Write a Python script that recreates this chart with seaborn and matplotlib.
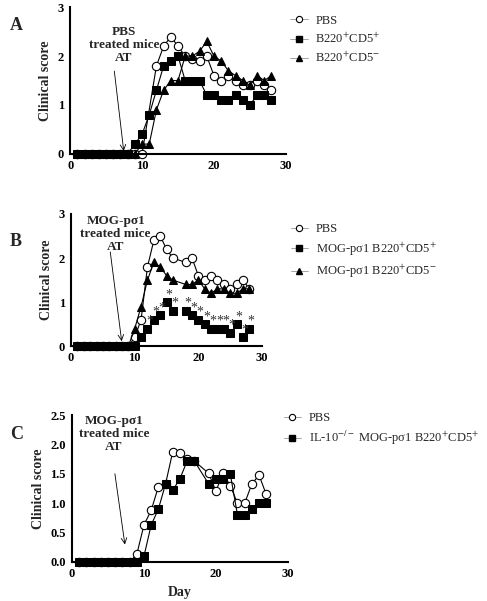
import numpy as np
import pandas as pd
import seaborn as sns
import matplotlib
matplotlib.use('Agg')
import matplotlib.pyplot as plt
from matplotlib.lines import Line2D

sns.set_style('white')
plt.rcParams['font.family'] = ['Liberation Serif', 'DejaVu Serif']
plt.rcParams['mathtext.fontset'] = 'stix'

# ---- panel A ----
pbs_a_day = [1, 2, 3, 4, 5, 6, 7, 8, 9, 10, 12, 13, 14, 15, 16, 17, 18, 19, 20, 21, 22, 23, 24, 25, 26, 27, 28]
pbs_a = [0, 0, 0, 0, 0, 0, 0, 0, 0, 0, 1.8, 2.2, 2.4, 2.2, 2.0, 1.95, 1.9, 2.0, 1.6, 1.5, 1.6, 1.5, 1.4, 1.4, 1.5, 1.4, 1.3]
pos_a_day = [1, 2, 3, 4, 5, 6, 7, 8, 9, 10, 11, 12, 13, 14, 15, 16, 17, 18, 19, 20, 21, 22, 23, 24, 25, 26, 27, 28]
pos_a = [0, 0, 0, 0, 0, 0, 0, 0, 0.2, 0.4, 0.8, 1.3, 1.8, 1.9, 2.0, 1.5, 1.5, 1.5, 1.2, 1.2, 1.1, 1.1, 1.2, 1.1, 1.0, 1.2, 1.2, 1.1]
neg_a_day = pos_a_day
neg_a = [0, 0, 0, 0, 0, 0, 0, 0, 0, 0.2, 0.2, 0.9, 1.3, 1.5, 1.5, 2.0, 2.0, 2.1, 2.3, 2.0, 1.9, 1.7, 1.6, 1.5, 1.4, 1.6, 1.5, 1.6]

# ---- panel B ----
pbs_b_day = [1, 2, 3, 4, 5, 6, 7, 8, 9, 10, 11, 12, 13, 14, 15, 16, 18, 19, 20, 21, 22, 23, 24, 25, 26, 27, 28]
pbs_b = [0, 0, 0, 0, 0, 0, 0, 0, 0, 0.2, 0.6, 1.8, 2.4, 2.5, 2.2, 2.0, 1.9, 2.0, 1.6, 1.5, 1.6, 1.5, 1.4, 1.3, 1.4, 1.5, 1.3]
pos_b_day = pbs_b_day
pos_b = [0, 0, 0, 0, 0, 0, 0, 0, 0, 0, 0.2, 0.4, 0.6, 0.7, 1.0, 0.8, 0.8, 0.7, 0.6, 0.5, 0.4, 0.4, 0.4, 0.3, 0.5, 0.2, 0.4]
neg_b_day = pbs_b_day
neg_b = [0, 0, 0, 0, 0, 0, 0, 0, 0, 0.4, 0.9, 1.5, 1.9, 1.8, 1.6, 1.5, 1.4, 1.4, 1.5, 1.3, 1.2, 1.3, 1.3, 1.2, 1.2, 1.3, 1.3]
star_b_day = [12, 13, 14, 15, 16, 18, 19, 20, 21, 22, 23, 24, 25, 26, 27, 28]

# ---- panel C ----
pbs_c_day = [1, 2, 3, 4, 5, 6, 7, 8, 9, 10, 11, 12, 13, 14, 15, 16, 17, 19, 20, 21, 22, 23, 24, 25, 26, 27]
pbs_c = [0, 0, 0, 0, 0, 0, 0, 0, 0.13, 0.63, 0.88, 1.28, 1.33, 1.88, 1.86, 1.75, 1.72, 1.51, 1.21, 1.51, 1.3, 1.0, 1.0, 1.33, 1.48, 1.15]
il10_c_day = [1, 2, 3, 4, 5, 6, 7, 8, 9, 10, 11, 12, 13, 14, 15, 16, 17, 19, 20, 21, 22, 23, 24, 25, 26, 27]
il10_c = [0, 0, 0, 0, 0, 0, 0, 0, 0, 0.1, 0.63, 0.9, 1.33, 1.22, 1.42, 1.72, 1.72, 1.33, 1.42, 1.42, 1.5, 0.8, 0.8, 0.9, 1.0, 1.0]

fig = plt.figure(figsize=(4.87, 6.01), dpi=100)
ax_a = fig.add_axes([0.144, 0.744, 0.443, 0.244])
ax_b = fig.add_axes([0.146, 0.424, 0.392, 0.220])
ax_c = fig.add_axes([0.148, 0.065, 0.443, 0.244])

tick_font = dict(family=['Liberation Serif', 'DejaVu Serif'], weight='bold', size=9)
open_kw = dict(marker='o', markerfacecolor='white', markeredgecolor='black', markersize=6, markeredgewidth=0.8)
sq_kw = dict(marker='s', markerfacecolor='black', markeredgecolor='black', markersize=6)
tri_kw = dict(marker='^', markerfacecolor='black', markeredgecolor='black', markersize=6)


def series(ax, days, vals, kw, line=True):
    df = pd.DataFrame({'day': days, 'score': vals})
    sns.lineplot(data=df, x='day', y='score', ax=ax, color='black',
                 linewidth=0.8 if line else 0, clip_on=False, **kw)


def style(ax, ymax, yticks, fmt=None):
    ax.set_xlim(0, 30)
    ax.set_ylim(0, ymax)
    ax.set_xticks([0, 10, 20, 30])
    ax.set_yticks(yticks)
    if fmt:
        ax.set_yticklabels([fmt % t for t in yticks])
    for lab in ax.get_xticklabels() + ax.get_yticklabels():
        lab.set_fontproperties(matplotlib.font_manager.FontProperties(**tick_font))
    for s in ['top', 'right']:
        ax.spines[s].set_visible(False)
    for s in ['left', 'bottom']:
        ax.spines[s].set_color('black')
        ax.spines[s].set_linewidth(1.5)
    ax.tick_params(direction='inout', length=5, width=1.2, colors='black', pad=2)
    ax.set_xlabel('')
    ax.set_ylabel('Clinical score', fontsize=10, fontweight='bold')


def legend(ax, labels, kws, x0, y0):
    handles = []
    for k in kws:
        k = dict(k)
        k['markersize'] = 4.5
        handles.append(Line2D([], [], color='grey', linewidth=0.5, **k))
    ax.legend(handles, labels, loc='upper left', bbox_to_anchor=(x0, y0), frameon=False,
              handlelength=1.4, handletextpad=0.6, fontsize=9, labelspacing=0.4,
              borderaxespad=0, borderpad=0)


# panel A
series(ax_a, pbs_a_day, pbs_a, open_kw)
series(ax_a, pos_a_day, pos_a, sq_kw)
series(ax_a, neg_a_day, neg_a, tri_kw)
style(ax_a, 3, [0, 1, 2, 3])
legend(ax_a, ['PBS', r'B220$^{+}$CD5$^{+}$', r'B220$^{+}$CD5$^{-}$'], [open_kw, sq_kw, tri_kw], 1.02, 0.95)
ax_a.text(7.5, 2.62, 'PBS\ntreated mice\nAT', ha='center', va='top', fontsize=9.5,
          fontweight='bold', linespacing=1.1)
ax_a.annotate('', xy=(7.5, 0), xytext=(6.1, 1.75),
              arrowprops=dict(arrowstyle='->', color='black', lw=0.6))
fig.text(0.02, 0.95, 'A', fontsize=13, fontweight='bold')

# panel B
series(ax_b, pbs_b_day, pbs_b, open_kw)
series(ax_b, pos_b_day, pos_b, sq_kw, line=False)
series(ax_b, neg_b_day, neg_b, tri_kw)
style(ax_b, 3, [0, 1, 2, 3])
legend(ax_b, ['PBS', r'MOG-pσ1 B220$^{+}$CD5$^{+}$', r'MOG-pσ1 B220$^{+}$CD5$^{-}$'],
       [open_kw, sq_kw, tri_kw], 1.15, 0.93)
for d in star_b_day:
    v = pos_b[pos_b_day.index(d)]
    ax_b.text(d + 0.3, v + 0.17, '*', ha='center', va='center', fontsize=10, color='#333333')
ax_b.text(7.0, 2.98, 'MOG-pσ1\ntreated mice\nAT', ha='center', va='top', fontsize=9.5,
          fontweight='bold', linespacing=1.1)
ax_b.annotate('', xy=(8.0, 0.05), xytext=(6.1, 2.2),
              arrowprops=dict(arrowstyle='->', color='black', lw=0.6))
fig.text(0.02, 0.59, 'B', fontsize=13, fontweight='bold')

# panel C
series(ax_c, pbs_c_day, pbs_c, open_kw)
series(ax_c, il10_c_day, il10_c, sq_kw)
style(ax_c, 2.5, [0, 0.5, 1.0, 1.5, 2.0, 2.5], '%.1f')
legend(ax_c, ['PBS', r'IL-10$^{-/-}$ MOG-pσ1 B220$^{+}$CD5$^{+}$'], [open_kw, sq_kw], 0.98, 1.02)
ax_c.set_xlabel('Day', fontsize=10, fontweight='bold')
ax_c.text(5.8, 2.5, 'MOG-pσ1\ntreated mice\nAT', ha='center', va='top', fontsize=9.5,
          fontweight='bold', linespacing=1.1)
ax_c.annotate('', xy=(7.4, 0.25), xytext=(5.9, 1.55),
              arrowprops=dict(arrowstyle='->', color='black', lw=0.6))
fig.text(0.02, 0.27, 'C', fontsize=13, fontweight='bold')

fig.savefig('out.png', dpi=100)
